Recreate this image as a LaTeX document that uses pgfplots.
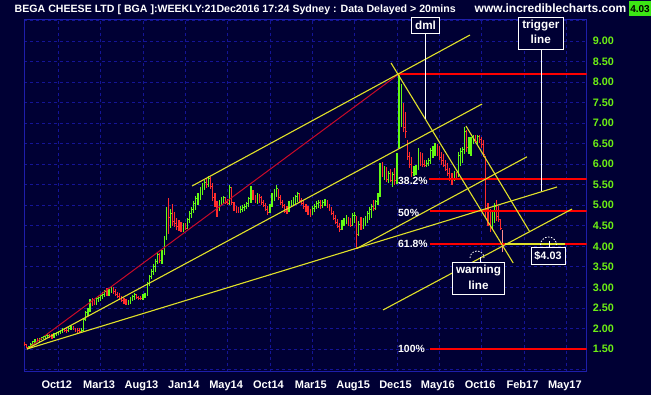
\documentclass[border=0pt]{standalone}
\usepackage{pgfplots}
\usepackage{pgfplotstable}
\pgfplotsset{compat=1.18}
\usepackage{fontspec}
\setmainfont{Liberation Sans}
\definecolor{bg}{RGB}{0,0,52}
\definecolor{gridcol}{RGB}{20,20,150}
\definecolor{framecol}{RGB}{30,30,170}
\definecolor{upcol}{RGB}{100,250,20}
\definecolor{dncol}{RGB}{255,45,45}
\definecolor{lastcol}{RGB}{255,140,140}
\definecolor{yel}{RGB}{225,225,40}
\definecolor{fibred}{RGB}{255,0,0}
\definecolor{diagred}{RGB}{200,10,40}
\definecolor{labgreen}{RGB}{110,240,20}
\definecolor{boxgreen}{RGB}{60,230,20}

\pgfplotstableread{
i l h c g
-16 1.58 1.66 1.62 0
-15 1.52 1.63 1.55 0
-14 1.50 1.58 1.56 1
-13 1.54 1.64 1.62 1
-12 1.58 1.70 1.68 1
-11 1.64 1.74 1.72 1
-10 1.66 1.76 1.70 0
-9 1.68 1.78 1.76 1
-8 1.72 1.80 1.78 1
-7 1.74 1.82 1.80 1
-6 1.74 1.84 1.82 1
-5 1.78 1.88 1.84 1
-4 1.76 1.86 1.80 0
-3 1.76 1.86 1.78 0
-2 1.76 1.90 1.86 1
-1 1.82 1.92 1.90 1
0 1.84 1.94 1.92 1
1 1.86 1.96 1.94 1
2 1.88 2.00 1.98 1
3 1.92 2.02 1.96 0
4 1.90 2.00 1.94 0
5 1.92 2.04 2.00 1
6 1.96 2.06 2.04 1
7 1.96 2.06 1.98 0
8 1.92 2.02 1.96 0
9 1.90 2.00 1.94 0
10 1.90 2.00 1.92 0
11 1.90 2.00 1.96 1
12 1.92 2.26 2.22 1
13 2.18 2.42 2.38 1
14 2.30 2.50 2.46 1
15 2.40 2.72 2.68 1
16 2.55 2.74 2.62 0
17 2.56 2.70 2.60 0
18 2.56 2.76 2.72 1
19 2.64 2.80 2.76 1
20 2.68 2.84 2.80 1
21 2.72 2.88 2.84 1
22 2.76 2.94 2.90 1
23 2.80 2.98 2.86 0
24 2.80 2.96 2.92 1
25 2.86 3.02 2.98 1
26 2.84 3.00 2.90 0
27 2.80 2.96 2.84 0
28 2.74 2.90 2.78 0
29 2.70 2.86 2.74 0
30 2.64 2.80 2.68 0
31 2.60 2.74 2.64 0
32 2.58 2.72 2.62 0
33 2.57 2.70 2.66 1
34 2.60 2.76 2.72 1
35 2.66 2.82 2.78 1
36 2.70 2.86 2.82 1
37 2.72 2.84 2.76 0
38 2.70 2.80 2.74 0
39 2.70 2.80 2.72 0
40 2.70 2.84 2.80 1
41 2.74 2.86 2.82 1
42 2.80 3.14 3.10 1
43 3.04 3.30 3.26 1
44 3.20 3.44 3.40 1
45 3.30 3.56 3.50 1
46 3.38 3.68 3.62 1
47 3.56 3.86 3.80 1
48 3.60 3.84 3.66 0
49 3.58 3.92 3.88 1
50 3.80 4.24 4.20 1
51 4.16 4.96 4.90 1
52 4.30 5.18 4.70 0
53 4.44 4.92 4.80 1
54 4.50 5.02 4.60 0
55 4.46 4.84 4.56 0
56 4.40 4.70 4.48 0
57 4.38 4.64 4.42 0
58 4.35 4.60 4.40 0
59 4.36 4.56 4.50 1
60 4.40 4.58 4.44 0
61 4.42 4.70 4.66 1
62 4.58 4.86 4.80 1
63 4.70 4.96 4.90 1
64 4.80 5.10 5.04 1
65 4.88 5.22 5.16 1
66 5.00 5.30 5.26 1
67 5.14 5.44 5.38 1
68 5.24 5.54 5.48 1
69 5.36 5.62 5.56 1
70 5.42 5.66 5.50 0
71 5.44 5.72 5.66 1
72 5.40 5.70 5.46 0
73 5.10 5.54 5.18 0
74 4.96 5.30 5.06 0
75 4.72 5.10 4.90 0
76 4.86 5.14 5.08 1
77 5.00 5.20 5.14 1
78 5.04 5.22 5.18 1
79 5.02 5.20 5.08 0
80 5.00 5.16 5.04 0
81 5.00 5.50 5.44 1
82 5.00 5.44 5.06 0
83 4.86 5.08 4.92 0
84 4.82 4.98 4.86 0
85 4.80 4.96 4.84 0
86 4.82 4.98 4.90 1
87 4.84 5.00 4.94 1
88 4.86 5.02 4.98 1
89 4.90 5.08 5.04 1
90 4.96 5.20 5.16 1
91 5.06 5.46 5.38 1
92 5.14 5.38 5.20 0
93 5.06 5.26 5.12 0
94 5.04 5.30 5.24 1
95 5.06 5.28 5.20 0
96 5.00 5.22 5.06 0
97 4.96 5.12 5.00 0
98 4.86 5.06 4.90 0
99 4.76 4.98 4.82 0
100 4.80 5.04 4.98 1
101 4.96 5.30 5.24 1
102 5.10 5.40 5.34 1
103 5.20 5.50 5.42 1
104 5.12 5.40 5.20 0
105 5.00 5.26 5.06 0
106 4.94 5.12 5.00 0
107 4.80 5.04 4.86 0
108 4.78 4.98 4.84 0
109 4.84 5.10 5.04 1
110 4.96 5.14 5.08 1
111 5.00 5.20 5.14 1
112 5.04 5.26 5.22 1
113 5.08 5.32 5.28 1
114 5.06 5.30 5.12 0
115 5.00 5.18 5.04 0
116 4.92 5.10 4.96 0
117 4.84 5.04 4.88 0
118 4.76 4.98 4.80 0
119 4.72 4.92 4.78 0
120 4.76 4.98 4.92 1
121 4.84 5.04 4.98 1
122 4.90 5.10 5.04 1
123 4.94 5.14 5.08 1
124 4.92 5.12 5.00 0
125 4.94 5.14 5.08 1
126 4.98 5.16 5.10 1
127 4.94 5.12 5.00 0
128 4.86 5.04 4.90 0
129 4.76 4.96 4.80 0
130 4.64 4.86 4.68 0
131 4.54 4.76 4.58 0
132 4.44 4.66 4.48 0
133 4.36 4.56 4.42 0
134 4.40 4.64 4.58 1
135 4.50 4.70 4.64 1
136 4.54 4.76 4.70 1
137 4.50 4.72 4.56 0
138 4.48 4.68 4.52 0
139 4.50 4.80 4.74 1
140 4.56 4.84 4.76 1
141 3.95 4.74 4.28 0
142 4.24 4.62 4.54 1
143 4.40 4.72 4.46 0
144 4.42 4.70 4.64 1
145 4.50 4.74 4.70 1
146 4.58 4.86 4.80 1
147 4.64 4.96 4.90 1
148 4.70 5.04 4.98 1
149 4.86 5.12 4.92 0
150 4.88 5.14 5.10 1
151 5.00 5.30 5.24 1
152 5.20 6.04 5.96 1
153 5.70 6.06 5.80 0
154 5.62 5.96 5.90 1
155 5.56 5.92 5.62 0
156 5.54 5.84 5.78 1
157 5.56 5.88 5.60 0
158 5.44 5.80 5.74 1
159 5.50 5.90 5.60 0
160 5.52 6.28 6.20 1
161 6.40 8.20 7.00 1
162 6.90 7.96 7.40 1
163 6.78 7.50 6.90 0
164 6.64 7.26 6.80 0
165 6.10 6.60 6.20 0
166 5.90 6.30 6.00 0
167 5.70 6.18 5.80 0
168 5.72 5.96 5.90 1
169 5.74 5.98 5.94 1
170 5.86 6.40 6.34 1
171 5.96 6.30 6.06 0
172 5.94 6.28 6.00 0
173 5.92 6.10 5.96 0
174 5.92 6.10 6.02 1
175 5.96 6.14 6.08 1
176 6.00 6.40 6.34 1
177 6.14 6.44 6.38 1
178 6.20 6.52 6.44 1
179 6.20 6.50 6.28 0
180 6.10 6.44 6.16 0
181 5.98 6.30 6.10 0
182 5.92 6.24 5.98 0
183 5.84 6.10 5.88 0
184 5.72 6.04 5.78 0
185 5.60 5.90 5.66 0
186 5.50 5.78 5.56 0
187 5.60 5.84 5.76 1
188 5.66 5.82 5.72 0
189 5.68 6.30 6.22 1
190 5.96 6.40 6.32 1
191 6.04 6.42 6.36 1
192 6.24 6.90 6.80 1
193 6.30 6.84 6.40 0
194 6.26 6.66 6.56 1
195 6.20 6.66 6.60 1
196 6.50 6.72 6.66 1
197 6.52 6.70 6.56 0
198 6.50 6.72 6.68 1
199 6.52 6.70 6.60 0
200 6.40 6.66 6.48 0
201 6.18 6.60 6.24 0
202 4.72 6.20 4.90 0
203 4.50 5.06 4.60 0
204 4.34 4.90 4.46 0
205 4.40 4.84 4.70 1
206 4.58 5.06 4.96 1
207 4.62 5.14 4.72 0
208 4.60 4.98 4.66 0
209 4.40 4.66 4.44 0
210 3.87 4.40 4.03 2
}\bars

\newcommand{\lab}[1]{\bfseries\fontsize{#1}{#1}\selectfont}

\begin{document}
\begin{tikzpicture}[x=1pt,y=1pt]
\fill[bg] (0pt,0pt) rectangle (651pt,395pt);
\begin{axis}[
  at={(24pt,23pt)}, anchor=south west,
  scale only axis, width=562.7pt, height=352.7pt,
  xmin=-16.2, xmax=249.63, ymin=0.9405, ymax=9.528,
  axis background/.style={fill=bg},
  axis line style={draw=framecol, line width=1pt},
  major tick length=0pt, tick style={draw=none},
  xtick={0,20,...,240},
  xticklabels={Oct12,Mar13,Aug13,Jan14,May14,Oct14,Mar15,Aug15,Dec15,May16,Oct16,Feb17,May17},
  ytick={1,1.5,2,2.5,3,3.5,4,4.5,5,5.5,6,6.5,7,7.5,8,8.5,9,9.5},
  yticklabels={{},1.50,2.00,2.50,3.00,3.50,4.00,4.50,5.00,5.50,6.00,6.50,7.00,7.50,8.00,8.50,9.00,{}},
  yticklabel pos=right,
  grid=major,
  major grid style={draw=gridcol, line width=0.8pt, dash pattern=on 3pt off 3pt},
  xticklabel style={font=\lab{11}, text=white, anchor=base, inner sep=0pt, yshift=-16.3pt, xshift=-1.5pt},
  yticklabel style={font=\lab{10.8}, text=labgreen, anchor=west, inner sep=0pt, xshift=6pt},
]
% price bars
\addplot[only marks, mark=-, color=upcol, mark size=0.6pt, mark options={xshift=0.6pt, line width=0.9pt},
  restrict expr to domain={\thisrow{g}}{0.5:1.5},
  error bars/.cd, y dir=both, y explicit, error mark=none, error bar style={line width=1.2pt, upcol}]
  table[x=i, y=c, y error plus expr=\thisrow{h}-\thisrow{c}, y error minus expr=\thisrow{c}-\thisrow{l}] {\bars};
\addplot[only marks, mark=-, color=dncol, mark size=0.6pt, mark options={xshift=0.6pt, line width=0.9pt},
  restrict expr to domain={\thisrow{g}}{-0.5:0.5},
  error bars/.cd, y dir=both, y explicit, error mark=none, error bar style={line width=1.2pt, dncol}]
  table[x=i, y=c, y error plus expr=\thisrow{h}-\thisrow{c}, y error minus expr=\thisrow{c}-\thisrow{l}] {\bars};
\addplot[only marks, mark=-, color=lastcol, mark size=0.6pt, mark options={xshift=0.6pt, line width=0.9pt},
  restrict expr to domain={\thisrow{g}}{1.5:2.5},
  error bars/.cd, y dir=both, y explicit, error mark=none, error bar style={line width=1.2pt, lastcol}]
  table[x=i, y=c, y error plus expr=\thisrow{h}-\thisrow{c}, y error minus expr=\thisrow{c}-\thisrow{l}] {\bars};
% fibonacci levels
\addplot[fibred, line width=1.2pt] coordinates {(161,8.1966) (249.63,8.1966)};
\addplot[fibred, line width=1.2pt] coordinates {(175.3,5.64) (249.63,5.64)};
\addplot[fibred, line width=1.2pt] coordinates {(175.6,4.8607) (249.63,4.8607)};
\addplot[fibred, line width=1.2pt] coordinates {(175.6,4.0571) (249.63,4.0571)};
\addplot[fibred, line width=1.2pt] coordinates {(175.6,1.5005) (249.63,1.5005)};
% trend lines
\addplot[diagred, line width=1pt] coordinates {(-14.8,1.50) (161,8.20)};
\addplot[yel, line width=1.1pt] coordinates {(63.2,5.469) (194.5,9.146)};
\addplot[yel, line width=1.1pt] coordinates {(-14.8,1.50) (200.2,7.466)};
\addplot[yel, line width=1.1pt] coordinates {(-14.8,1.50) (235.6,5.445)};
\addplot[yel, line width=1.1pt] coordinates {(141.1,3.95) (221.4,6.18)};
\addplot[yel, line width=1.1pt] coordinates {(153.4,2.45) (242.7,4.909)};
\addplot[yel, line width=1.1pt] coordinates {(157.2,8.464) (214.9,3.595)};
\addplot[yel, line width=1.1pt] coordinates {(192.6,6.93) (222.8,4.349)};
\addplot[yel, line width=1.2pt] coordinates {(211,4.0571) (239.4,4.0571)};
\end{axis}
% title
\node[anchor=base west, inner sep=0pt, text=white, font=\lab{10.6}] at (14.5pt,382.5pt)
  {BEGA CHEESE LTD [ BGA ]:WEEKLY:21Dec2016 17:24 Sydney : Data Delayed > 20mins};
\node[anchor=base west, inner sep=0pt, text=white, font=\lab{12}] at (474.5pt,382.5pt) {www.incrediblecharts.com};
\fill[boxgreen] (628.8pt,379pt) rectangle (651pt,393.5pt);
\node[inner sep=0pt, text=black, font=\lab{10}] at (640pt,386.3pt) {4.03};
% fib labels
\node[anchor=west, inner sep=0pt, text=white, font=\lab{10.4}] at (398pt,214.2pt) {38.2\%};
\node[anchor=west, inner sep=0pt, text=white, font=\lab{10.4}] at (398pt,182.5pt) {50\%};
\node[anchor=west, inner sep=0pt, text=white, font=\lab{10.4}] at (398pt,151pt) {61.8\%};
\node[anchor=west, inner sep=0pt, text=white, font=\lab{10.4}] at (398pt,46.5pt) {100\%};
% annotation boxes
\draw[white, line width=1pt] (425.5pt,361.5pt) -- (425.5pt,276pt);
\draw[white, line width=1pt, fill=bg] (411.7pt,377pt) rectangle (439.3pt,361.5pt);
\node[text=white, font=\lab{11.7}, inner sep=0pt] at (425.5pt,369.5pt) {dml};
\draw[white, line width=1pt] (541.7pt,345.7pt) -- (541.7pt,203.5pt);
\draw[white, line width=1pt, fill=bg] (518.3pt,377pt) rectangle (563.3pt,345.7pt);
\node[text=white, font=\lab{11.7}, inner sep=0pt] at (540.8pt,369pt) {trigger};
\node[text=white, font=\lab{11.7}, inner sep=0pt] at (540.8pt,356pt) {line};
\draw[white, line width=1pt, fill=bg] (452.7pt,132.7pt) rectangle (504.3pt,100pt);
\node[text=white, font=\lab{11.7}, inner sep=0pt] at (478.5pt,124pt) {warning};
\node[text=white, font=\lab{11.7}, inner sep=0pt] at (478.5pt,110pt) {line};
\draw[white, line width=0.8pt, dash pattern=on 1.5pt off 1.5pt] (470pt,137pt) arc[start angle=180, end angle=0, radius=7pt];
\draw[white, line width=0.8pt] (480pt,138pt) -- (480pt,132.7pt);
\draw[white, line width=1pt, fill=bg] (531pt,147.7pt) rectangle (565pt,130.7pt);
\node[text=white, font=\lab{10.8}, inner sep=0pt] at (548pt,139pt) {\$4.03};
\draw[white, line width=0.8pt, dash pattern=on 1.5pt off 1.5pt] (540.5pt,150pt) arc[start angle=180, end angle=0, radius=8pt];
\draw[white, line width=0.8pt] (549pt,154pt) -- (549pt,147.7pt);
\pgfresetboundingbox
\useasboundingbox (0pt,0pt) rectangle (651pt,395pt);
\end{tikzpicture}
\end{document}
